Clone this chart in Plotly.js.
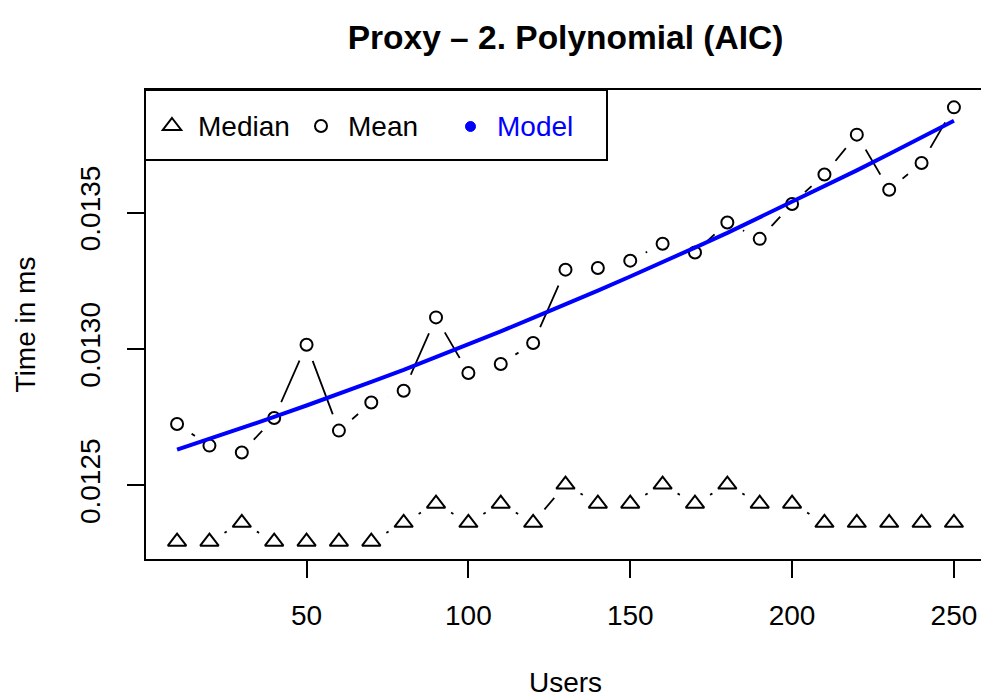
<!DOCTYPE html>
<html>
<head>
<meta charset="utf-8">
<script src="https://cdn.plot.ly/plotly-3.0.1.min.js"></script>
<style>
html, body { margin: 0; padding: 0; overflow: hidden; background: #ffffff; }
#chart { width: 990px; height: 700px; }
</style>
</head>
<body>
<div id="chart"></div>
<script>
// ---- data ----
const users = [10, 20, 30, 40, 50, 60, 70, 80, 90, 100, 110, 120, 130,
               140, 150, 160, 170, 180, 190, 200, 210, 220, 230, 240, 250];

const meanTime = [0.012725, 0.012646, 0.012621, 0.012747, 0.013016, 0.012701,
                  0.012804, 0.012847, 0.013116, 0.012912, 0.012945, 0.013022,
                  0.013291, 0.013297, 0.013324, 0.013386, 0.013354, 0.013464,
                  0.013404, 0.013532, 0.013640, 0.013786, 0.013584, 0.013682,
                  0.013886];

const medianTime = [0.012294, 0.012294, 0.012363, 0.012294, 0.012294, 0.012294,
                    0.012294, 0.012363, 0.012433, 0.012363, 0.012433, 0.012363,
                    0.012503, 0.012433, 0.012433, 0.012503, 0.012433, 0.012503,
                    0.012433, 0.012433, 0.012363, 0.012363, 0.012363, 0.012363,
                    0.012363];

const modelTime = [0.012631, 0.012670, 0.012710, 0.012751, 0.012793, 0.012835,
                   0.012880, 0.012924, 0.012970, 0.013016, 0.013065, 0.013114,
                   0.013163, 0.013214, 0.013266, 0.013318, 0.013372, 0.013426,
                   0.013483, 0.013539, 0.013597, 0.013655, 0.013715, 0.013776,
                   0.013837];

const xTickVals = [50, 100, 150, 200, 250];
const yTickVals = [0.0125, 0.0130, 0.0135];
const yTickText = ["0.0125", "0.0130", "0.0135"];

const titleText = "Proxy \u2013 2. Polynomial (AIC)";
const xTitle = "Users";
const yTitle = "Time in ms";
const legendLabels = ["Median", "Mean", "Model"];

// ---- layout constants ----
const FONT = "Liberation Sans, Arial, Helvetica, sans-serif";
const W = 990, H = 700;
const M = { l: 146, r: 5, t: 90, b: 141 };
const PW = W - M.l - M.r, PH = H - M.t - M.b;
const BLUE = "#0000FF";

// R-style 4% axis extension
function rRange(arr) {
  const lo = Math.min(...arr), hi = Math.max(...arr);
  const d = (hi - lo) * 0.04;
  return [lo - d, hi + d];
}
const xRange = rRange(users);
const yRange = rRange(meanTime.concat(medianTime, modelTime));

// pixel -> paper helpers (for legend decoration only)
const px = v => (v - M.l) / PW;
const py = v => (H - M.b - v) / PH;

const traces = [
  { x: users, y: meanTime, mode: "lines", line: { color: "#000", width: 1.8 }, showlegend: false, hoverinfo: "skip" },
  { x: users, y: medianTime, mode: "lines", line: { color: "#000", width: 1.8 }, showlegend: false, hoverinfo: "skip" },
  // white halos produce the gaps of R's type = "b"
  { x: users, y: meanTime, mode: "markers", marker: { symbol: "circle", size: 35, color: "#fff", line: { width: 0 } }, showlegend: false, hoverinfo: "skip" },
  { x: users, y: medianTime, mode: "markers", marker: { symbol: "circle", size: 35, color: "#fff", line: { width: 0 } }, showlegend: false, hoverinfo: "skip" },
  { x: users, y: meanTime, mode: "markers", name: "Mean",
    marker: { symbol: "circle-open", size: 12, color: "#000", line: { color: "#000", width: 2 } }, showlegend: false },
  { x: users, y: medianTime, mode: "markers", name: "Median",
    marker: { symbol: "triangle-up-open", size: 16, color: "#000", line: { color: "#000", width: 2 } }, showlegend: false },
  { x: users, y: modelTime, mode: "lines", name: "Model", line: { color: BLUE, width: 4 }, showlegend: false }
];

// legend decoration
const triC = [172, 126], triR = 8, triHW = triR * 1.1547;
const legendShapes = [
  { type: "rect", xref: "paper", yref: "paper", x0: px(145), x1: px(607), y0: py(160), y1: py(90),
    line: { color: "#000", width: 2 }, fillcolor: "rgba(0,0,0,0)" },
  { type: "path", xref: "paper", yref: "paper",
    path: "M " + px(triC[0]) + "," + py(triC[1] - triR) +
          " L " + px(triC[0] + triHW) + "," + py(triC[1] + triR / 2) +
          " L " + px(triC[0] - triHW) + "," + py(triC[1] + triR / 2) + " Z",
    line: { color: "#000", width: 2 } },
  { type: "circle", xref: "paper", yref: "paper", x0: px(315), x1: px(327), y0: py(132), y1: py(120),
    line: { color: "#000", width: 2 } },
  { type: "circle", xref: "paper", yref: "paper", x0: px(465.5), x1: px(475.5), y0: py(131.5), y1: py(121.5),
    line: { color: BLUE, width: 1 }, fillcolor: BLUE }
];

const legendAnn = [
  { text: legendLabels[0], x: px(196), color: "#000" },
  { text: legendLabels[1], x: px(346), color: "#000" },
  { text: legendLabels[2], x: px(495), color: BLUE }
].map(a => ({
  text: a.text, xref: "paper", yref: "paper", x: a.x, y: py(126), xanchor: "left", yanchor: "middle",
  showarrow: false, font: { family: FONT, size: 28, color: a.color }
}));

const layout = {
  width: W, height: H,
  margin: M,
  paper_bgcolor: "#fff", plot_bgcolor: "#fff",
  font: { family: FONT, size: 28, color: "#000" },
  showlegend: false,
  title: { text: "<b>" + titleText + "</b>", xref: "paper", x: 0.5, xanchor: "center",
           yref: "container", y: 1 - 37 / H, yanchor: "middle",
           font: { family: FONT, size: 33.5, color: "#000" } },
  xaxis: {
    range: xRange, tickmode: "array", tickvals: xTickVals, ticktext: xTickVals.map(String),
    ticks: "outside", ticklen: 17, tickwidth: 2, tickcolor: "#000",
    showline: true, mirror: true, linewidth: 2, linecolor: "#000",
    showgrid: false, zeroline: false, automargin: false,
    tickfont: { family: FONT, size: 28, color: "#000" }, ticklabelstandoff: 13,
    title: { text: xTitle, font: { family: FONT, size: 28, color: "#000" }, standoff: 43 }
  },
  yaxis: {
    range: yRange, tickmode: "array", tickvals: yTickVals, ticktext: yTickText,
    ticks: "outside", ticklen: 17, tickwidth: 2, tickcolor: "#000", tickangle: -90,
    showline: true, mirror: true, linewidth: 2, linecolor: "#000",
    showgrid: false, zeroline: false, automargin: false,
    tickfont: { family: FONT, size: 28, color: "#000" }, ticklabelstandoff: 16,
    title: { text: yTitle, font: { family: FONT, size: 28, color: "#000" }, standoff: 31 }
  },
  shapes: legendShapes,
  annotations: legendAnn
};

Plotly.newPlot("chart", traces, layout, { staticPlot: true, displayModeBar: false });
</script>
</body>
</html>
